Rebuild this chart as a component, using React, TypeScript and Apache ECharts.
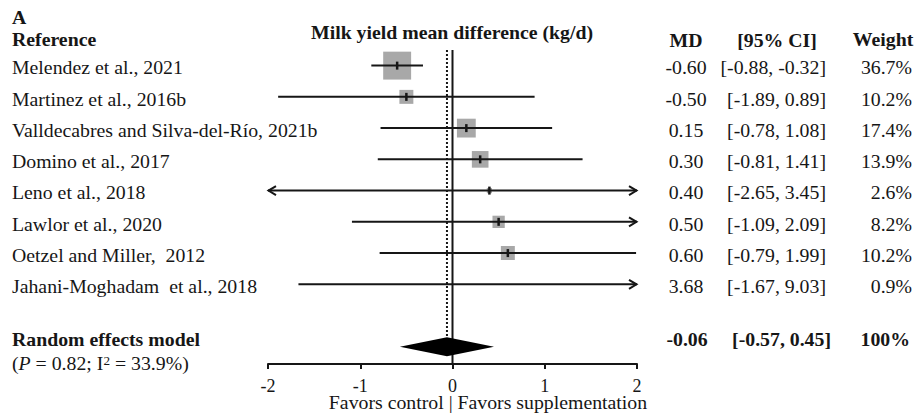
import React, { useEffect, useRef } from "react";
import * as echarts from "echarts";

// ---- data ----
const studies = [
  "Melendez et al., 2021",
  "Martinez et al., 2016b",
  "Valldecabres and Silva-del-Río, 2021b",
  "Domino et al., 2017",
  "Leno et al., 2018",
  "Lawlor et al., 2020",
  "Oetzel and Miller,  2012",
  "Jahani-Moghadam  et al., 2018",
];
const md = [-0.6, -0.5, 0.15, 0.3, 0.4, 0.5, 0.6, 3.68];
const ciLow = [-0.88, -1.89, -0.78, -0.81, -2.65, -1.09, -0.79, -1.67];
const ciHigh = [-0.32, 0.89, 1.08, 1.41, 3.45, 2.09, 1.99, 9.03];
const weights = [36.7, 10.2, 17.4, 13.9, 2.6, 8.2, 10.2, 0.9];

const summaryLabel = "Random effects model";
const summaryMd = -0.06;
const summaryLow = -0.57;
const summaryHigh = 0.45;
const summaryWeight = "100%";
const summaryP = "0.82";
const summaryI2 = "33.9%";
const summaryRow = 9;

const xTicks = [-2, -1, 0, 1, 2];
const plotTitle = "Milk yield mean difference (kg/d)";
const xAxisTitle = "Favors control | Favors supplementation";
const headers = { panel: "A", ref: "Reference", md: "MD", ci: "[95% CI]", weight: "Weight" };

// ---- style ----
const FONT = '"Liberation Serif", "Times New Roman", Times, serif';
const INK = "#161616";
const SX = 1.1;
const XMIN = xTicks[0];
const XMAX = xTicks[xTicks.length - 1];

function boxSize(w: number) {
  return 4.7 * Math.sqrt(Math.max(w - 1.37, 0));
}

function txt(
  text: string,
  x: number,
  y: number,
  align: string,
  bold = false,
  size = 18,
  lineHeight = 18
): any {
  return {
    type: "text",
    x,
    y,
    scaleX: SX,
    style: {
      text,
      fontFamily: FONT,
      fontSize: size,
      fontWeight: bold ? "bold" : "normal",
      fill: INK,
      align,
      verticalAlign: "middle",
      lineHeight,
    },
  };
}

export default function App() {
  const ref = useRef<HTMLDivElement>(null);

  useEffect(() => {
    document.body.style.margin = "0";
    const chart = echarts.init(ref.current!, undefined, { renderer: "svg" });

    const ciData = md.map((m, i) => [m, i, ciLow[i], ciHigh[i], weights[i]]);
    const textData = studies.map((_, i) => [0, i]);

    const option: any = {
      animation: false,
      backgroundColor: "#ffffff",
      textStyle: { fontFamily: FONT },
      grid: { left: 268, right: 282, top: 50, bottom: 51 },
      xAxis: {
        type: "value",
        min: XMIN,
        max: XMAX,
        interval: 1,
        axisLine: { show: true, onZero: false, lineStyle: { color: INK, width: 2 } },
        axisTick: { show: true, length: 5, lineStyle: { color: INK, width: 2 } },
        splitLine: { show: false },
        axisLabel: {
          fontFamily: FONT,
          fontSize: 18,
          lineHeight: 15,
          color: INK,
          margin: 14,
          formatter: (v: number) => String(v),
        },
      },
      yAxis: { type: "value", min: -0.5, max: 9.55, inverse: true, show: false },
      series: [
        {
          type: "line",
          data: [
            [0, -0.5],
            [0, 9.55],
          ],
          symbol: "none",
          lineStyle: { color: INK, width: 2 },
          z: 2,
        },
        {
          type: "line",
          data: [
            [summaryMd, -0.5],
            [summaryMd, 8.75],
          ],
          symbol: "none",
          lineStyle: { color: INK, width: 2, type: [2, 2] },
          z: 2,
        },
        {
          type: "custom",
          clip: false,
          z: 3,
          data: ciData,
          encode: { x: 0, y: 1 },
          renderItem: (params: any, api: any) => {
            const m = api.value(0);
            const row = api.value(1);
            const lo = api.value(2);
            const hi = api.value(3);
            const w = api.value(4);
            const y = api.coord([0, row])[1];
            const xl = api.coord([Math.max(lo, XMIN), row])[0];
            const xh = api.coord([Math.min(hi, XMAX), row])[0];
            const children: any[] = [];
            const inside = m >= XMIN && m <= XMAX;
            const xm = api.coord([m, row])[0];
            if (inside) {
              const s = boxSize(w);
              if (s > 0) {
                children.push({
                  type: "rect",
                  shape: { x: xm - s / 2, y: y - s / 2, width: s, height: s },
                  style: { fill: "#a8a8a8" },
                });
              }
            }
            children.push({
              type: "line",
              shape: { x1: xl, y1: y, x2: xh, y2: y },
              style: { stroke: INK, lineWidth: 2 },
            });
            if (lo < XMIN) {
              children.push({
                type: "polyline",
                shape: { points: [[xl + 8, y - 4.5], [xl + 0.5, y], [xl + 8, y + 4.5]] },
                style: { stroke: INK, lineWidth: 2, fill: "none" },
              });
            }
            if (hi > XMAX) {
              children.push({
                type: "polyline",
                shape: { points: [[xh - 8, y - 4.5], [xh - 0.5, y], [xh - 8, y + 4.5]] },
                style: { stroke: INK, lineWidth: 2, fill: "none" },
              });
            }
            if (inside) {
              children.push({
                type: "line",
                shape: { x1: xm, y1: y - 4, x2: xm, y2: y + 4 },
                style: { stroke: INK, lineWidth: 2.5 },
              });
            }
            return { type: "group", children };
          },
        },
        {
          type: "custom",
          clip: false,
          z: 4,
          data: [[summaryMd, summaryRow, summaryLow, summaryHigh]],
          encode: { x: 0, y: 1 },
          renderItem: (params: any, api: any) => {
            const row = api.value(1);
            const c = api.coord([api.value(0), row]);
            const l = api.coord([api.value(2), row]);
            const h = api.coord([api.value(3), row]);
            return {
              type: "polygon",
              shape: {
                points: [
                  [l[0], c[1]],
                  [c[0], c[1] - 9.5],
                  [h[0], c[1]],
                  [c[0], c[1] + 9.5],
                ],
              },
              style: { fill: "#000000" },
            };
          },
        },
        {
          type: "custom",
          clip: false,
          z: 5,
          silent: true,
          data: textData,
          encode: { x: 0, y: 1 },
          renderItem: (params: any, api: any) => {
            const i = params.dataIndex;
            const y = api.coord([0, api.value(1)])[1] + 2.5;
            return {
              type: "group",
              children: [
                txt(studies[i], 12, y, "left"),
                txt(md[i].toFixed(2), 686, y, "center"),
                txt(`[${ciLow[i].toFixed(2)}, ${ciHigh[i].toFixed(2)}]`, 826, y, "right"),
                txt(`${weights[i].toFixed(1)}%`, 912, y, "right"),
              ],
            };
          },
        },
        {
          type: "custom",
          clip: false,
          z: 5,
          silent: true,
          data: [[0, summaryRow]],
          encode: { x: 0, y: 1 },
          renderItem: (params: any, api: any) => {
            const y = api.coord([0, api.value(1)])[1] - 6.5;
            return {
              type: "group",
              children: [
                txt(summaryLabel, 12, y, "left", true),
                txt(summaryMd.toFixed(2), 687, y, "center", true),
                txt(`[${summaryLow.toFixed(2)}, ${summaryHigh.toFixed(2)}]`, 831, y, "right", true),
                txt(summaryWeight, 910, y, "right", true),
                {
                  type: "text",
                  x: 12,
                  y: y + 23.5,
                  scaleX: SX,
                  style: {
                    text: `{a|(}{i|P}{a| = ${summaryP}; I}{s|2}{a| = ${summaryI2})}`,
                    fontFamily: FONT,
                    fontSize: 18,
                    fill: INK,
                    align: "left",
                    verticalAlign: "middle",
                    rich: {
                      a: { fontFamily: FONT, fontSize: 18, fill: INK },
                      i: { fontFamily: FONT, fontSize: 18, fill: INK, fontStyle: "italic" },
                      s: { fontFamily: FONT, fontSize: 12, fill: INK, verticalAlign: "top" },
                    },
                  },
                },
              ],
            };
          },
        },
      ],
      graphic: [
        txt(headers.panel, 12, 18, "left", true),
        txt(headers.ref, 12, 40, "left", true),
        txt(plotTitle, 452, 33, "center", true),
        txt(headers.md, 686, 41, "center", true),
        txt(headers.ci, 777, 41, "center", true),
        txt(headers.weight, 883, 40, "center", true),
        txt(xAxisTitle, 488, 403, "center", false, 18, 14),
      ],
    };

    chart.setOption(option);
    return () => chart.dispose();
  }, []);

  return <div ref={ref} style={{ width: 919, height: 415 }} />;
}
